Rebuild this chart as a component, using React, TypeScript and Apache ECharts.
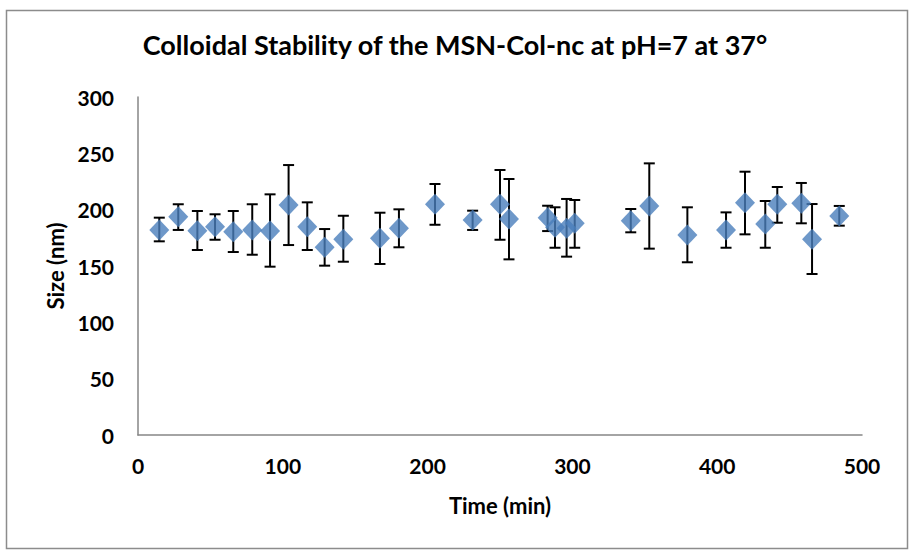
import React, { useEffect, useRef } from "react";
import * as echarts from "echarts";

const timeMin = [14.7, 27.8, 41, 53.2, 65.8, 78.9, 91.2, 104, 116.9, 128.9, 141.8, 167.1, 180.2, 205.1, 231.1, 250, 256.2, 282.9, 288, 296, 301.6, 340.3, 353.1, 379.4, 406.1, 419.2, 433.2, 441.5, 458.1, 465.5, 484.3];
const sizeNm = [182, 193.8, 181.3, 184.9, 180.5, 182, 181, 204.1, 184.9, 166.6, 173.7, 174.6, 183.4, 204.8, 190.8, 204.8, 191.7, 192.9, 184.3, 183.4, 187.9, 190.2, 203.3, 177.5, 182, 206.2, 187.3, 204.8, 205.6, 173.7, 194.4];
const errHigh = [192.9, 204.8, 198.8, 195.9, 198.8, 204.8, 213.6, 239.6, 206.5, 182.8, 194.6, 197.3, 200.3, 222.8, 199.1, 235.2, 227.2, 203.5, 202.1, 209.5, 208.6, 200.6, 241.1, 202.1, 197.6, 233.7, 207.7, 220.1, 223.7, 205, 203.3];
const errLow = [171.9, 182, 164.2, 173.3, 162.4, 160, 149.4, 168.6, 164.2, 150.3, 153.8, 151.8, 166.6, 186.6, 182, 173.3, 155.9, 181, 166.2, 158.3, 166.2, 179.9, 165.4, 153.3, 166.2, 178.1, 166.2, 188.4, 187.9, 142.9, 185.8];

const titleText = "Colloidal Stability of the MSN-Col-nc at pH=7 at 37°";
const xAxisName = "Time (min)";
const yAxisName = "Size (nm)";

export default function App() {
  const ref = useRef<HTMLDivElement>(null);
  useEffect(() => {
    document.body.style.margin = "0";
    if (!ref.current) return;
    const chart = echarts.init(ref.current, null, { renderer: "svg" });
    const points = timeMin.map((t, i) => [t, sizeNm[i]]);
    const errData = timeMin.map((t, i) => [t, errLow[i], errHigh[i]]);
    const font = "Lato, 'Open Sans', sans-serif";
    chart.setOption({
      animation: false,
      backgroundColor: "#ffffff",
      title: {
        text: titleText,
        left: "center",
        top: 26,
        textStyle: { fontFamily: font, fontWeight: "bold", fontSize: 27, color: "#000" },
      },
      graphic: [
        {
          type: "rect",
          shape: { x: 6.5, y: 10.5, width: 901, height: 538 },
          style: { fill: "none", stroke: "#8c8c8c", lineWidth: 1.5 },
          silent: true,
        },
      ],
      grid: { left: 138, right: 48, top: 97, bottom: 116 },
      xAxis: {
        type: "value",
        min: 0,
        max: 500,
        interval: 100,
        name: xAxisName,
        nameLocation: "middle",
        nameGap: 59,
        nameTextStyle: { fontFamily: font, fontWeight: "bold", fontSize: 22, color: "#000" },
        axisLine: { show: true, lineStyle: { color: "#868686", width: 1.5 } },
        axisTick: { show: false },
        splitLine: { show: false },
        axisLabel: { fontFamily: font, fontWeight: "bold", fontSize: 21, color: "#000", margin: 20 },
      },
      yAxis: {
        type: "value",
        min: 0,
        max: 300,
        interval: 50,
        name: yAxisName,
        nameLocation: "middle",
        nameGap: 72,
        nameRotate: 90,
        nameTextStyle: { fontFamily: font, fontWeight: "bold", fontSize: 22, color: "#000" },
        axisLine: { show: true, lineStyle: { color: "#868686", width: 1.5 } },
        axisTick: { show: false },
        splitLine: { show: false },
        axisLabel: { fontFamily: font, fontWeight: "bold", fontSize: 21, color: "#000", margin: 24 },
      },
      series: [
        {
          type: "custom",
          z: 1,
          data: errData,
          renderItem: (params: any, api: any) => {
            const x = api.value(0);
            const lo = api.coord([x, api.value(1)]);
            const hi = api.coord([x, api.value(2)]);
            const half = 5.5;
            const style = { stroke: "#000", lineWidth: 2 };
            return {
              type: "group",
              children: [
                { type: "line", shape: { x1: lo[0], y1: lo[1], x2: hi[0], y2: hi[1] }, style },
                { type: "line", shape: { x1: hi[0] - half, y1: hi[1], x2: hi[0] + half, y2: hi[1] }, style },
                { type: "line", shape: { x1: lo[0] - half, y1: lo[1], x2: lo[0] + half, y2: lo[1] }, style },
              ],
            };
          },
        },
        {
          type: "scatter",
          z: 2,
          data: points,
          symbol: "diamond",
          symbolSize: [20, 21],
          itemStyle: { color: "#4a7ebb" },
        },
      ],
    });
    return () => chart.dispose();
  }, []);
  return <div ref={ref} style={{ width: 910, height: 551 }} />;
}
